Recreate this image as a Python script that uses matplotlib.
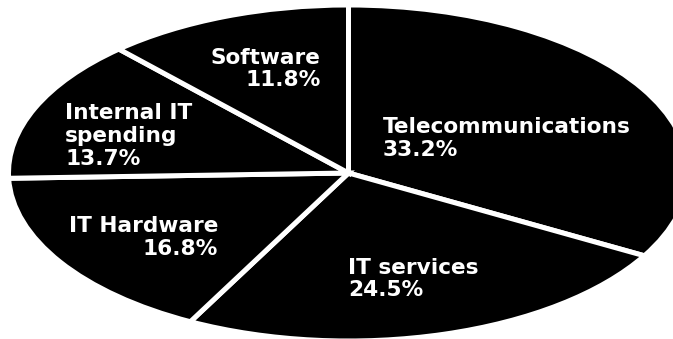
import matplotlib
matplotlib.use("Agg")
import matplotlib.pyplot as plt

# Share of spending by segment (percent), clockwise from 12 o'clock
categories = ["Telecommunications", "IT services", "IT Hardware",
              "Internal IT\nspending", "Software"]
shares = [33.2, 24.5, 16.8, 13.7, 11.8]

W, H = 673, 339
fig = plt.figure(figsize=(W / 100, H / 100), dpi=100)
ax = fig.add_axes([0, 0, 1, 1])

ax.pie(shares, startangle=90, counterclock=False, radius=1.0,
       colors=["black"] * len(shares),
       wedgeprops=dict(edgecolor="white", linewidth=3.6))

# Stretch the pie into a wide ellipse filling the canvas
cx, cy = 348.5, 173.0      # centre in pixels (from top-left)
rx, ry = 340.0, 168.0      # horizontal / vertical radius in pixels
ax.set_aspect("auto")
ax.set_xlim(-cx / rx, (W - cx) / rx)
ax.set_ylim(-(H - cy) / ry, cy / ry)
ax.axis("off")

# Label placement: (x, last-line baseline y) in pixels, horizontal alignment
label_pos = [(383, 155.5, "left"), (348, 296.5, "left"), (218, 255, "right"),
             (65, 165, "left"), (320.5, 86.5, "right")]

for name, val, (px, py, ha) in zip(categories, shares, label_pos):
    fig.text(px / W, 1 - py / H, f"{name}\n{val:.1f}%",
             ha=ha, va="baseline", multialignment=ha,
             color="white", fontsize=15.6, fontweight="bold",
             family="DejaVu Sans", linespacing=1.18)

fig.savefig("out.png", dpi=100, facecolor="white")
